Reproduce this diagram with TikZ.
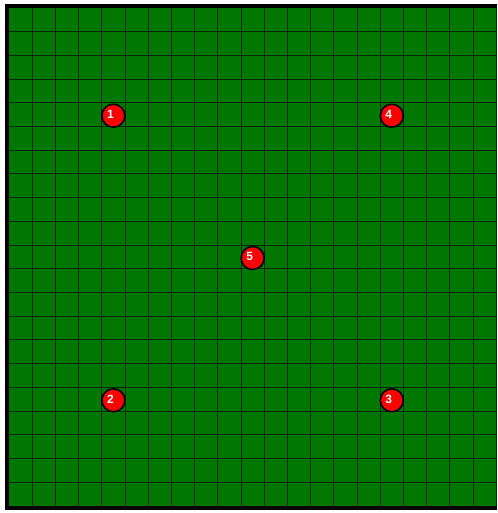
\documentclass[tikz,border=0pt]{standalone}
\usepackage{fontspec}
\setsansfont{Liberation Sans}
\usepackage{tikz}

\definecolor{pitch}{RGB}{0,120,0}
\definecolor{pitchline}{RGB}{0,40,0}
\newcommand{\ballnum}[1]{\raisebox{2.5pt}{#1}\kern6pt}

\begin{document}
\begin{tikzpicture}[
  x=1pt, y=-1pt,
  cellline/.style={pitchline, line width=1pt},
  frame/.style={black, line width=4pt},
  ball/.style={circle, draw=black, line width=1.6pt, fill=red,
               minimum size=23pt, inner sep=0pt, text=white,
               font=\fontsize{12}{12}\selectfont\sffamily\bfseries},
]
\useasboundingbox (0,0) rectangle (497,513);

% field and cells
\fill[pitch] (7,6) rectangle (497,508);
\foreach \i in {1,...,21}
  \draw[cellline] ({9+\i*23.2},8) -- ({9+\i*23.2},506);
\foreach \j in {1,...,20}
  \draw[cellline] (9,{8+\j*23.714}) -- (497,{8+\j*23.714});
\draw[frame] (497,6) -- (7,6) -- (7,508) -- (497,508);

% numbered balls
\node[ball] (b1) at ({9+4.5*23.2},{9+4.5*23.714})   {\ballnum{1}};
\node[ball] (b4) at ({9+16.5*23.2},{9+4.5*23.714})  {\ballnum{4}};
\node[ball] (b5) at ({9+10.5*23.2},{9+10.5*23.714}) {\ballnum{5}};
\node[ball] (b2) at ({9+4.5*23.2},{9+16.5*23.714})  {\ballnum{2}};
\node[ball] (b3) at ({9+16.5*23.2},{9+16.5*23.714}) {\ballnum{3}};

\end{tikzpicture}
\end{document}
